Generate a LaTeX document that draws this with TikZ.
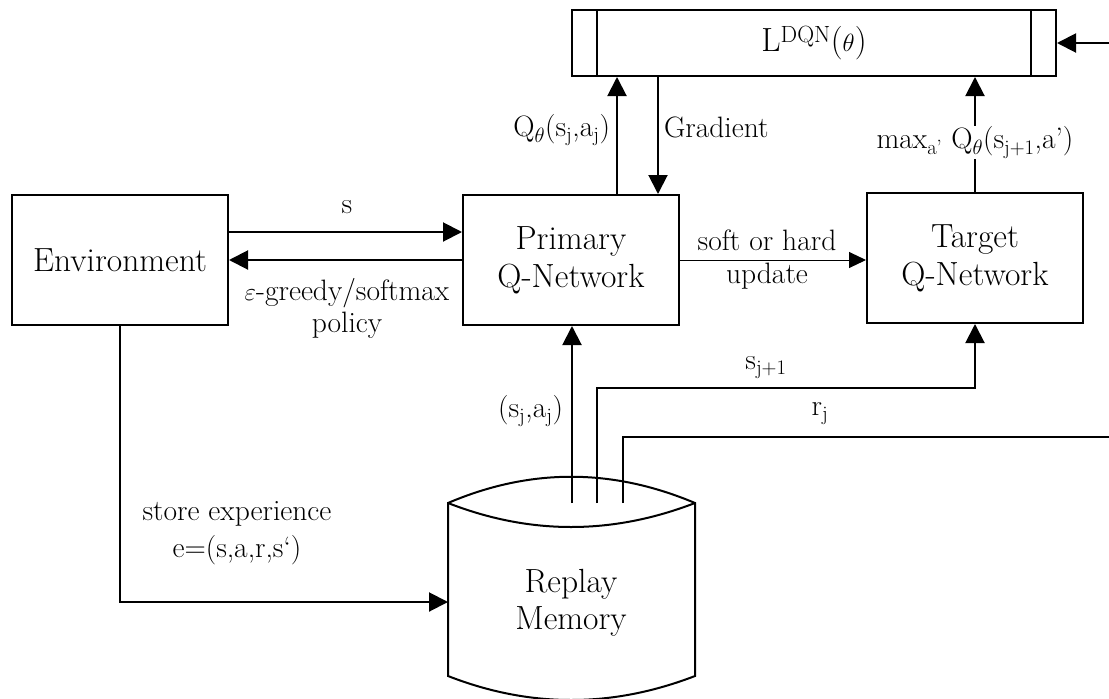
\documentclass[tikz,border=0pt]{standalone}
\usetikzlibrary{arrows.meta,calc}
\newcommand\nodefnt{\fontsize{33.5}{38}\selectfont}
\newcommand\labfnt{\fontsize{29.5}{33}\selectfont}
\begin{document}
\begin{tikzpicture}[x=1pt,y=-1pt,line width=2pt,
  box/.style={draw,line width=2pt,minimum width=216pt,minimum height=130pt,align=center,font=\nodefnt,inner sep=0pt},
  lab/.style={font=\labfnt,align=center,inner sep=1pt},
  arr/.style={-{Triangle[length=19pt,width=19pt]},line width=2pt},
  thinarr/.style={-{Triangle[length=17pt,width=16pt]},line width=1pt}]
\useasboundingbox (0,0) rectangle (1109,699);

% nodes
\node[box] (env) at (120,260) {Environment};
\node[box] (prim) at (571,260) {Primary\\Q-Network};
\node[box] (targ) at (975,258) {Target\\Q-Network};
\node[draw,line width=2pt,minimum width=484pt,minimum height=66pt,inner sep=0pt,font=\nodefnt] (loss) at (814,43) {L\textsuperscript{DQN}($\theta$)};
\draw[line width=2pt] ([xshift=26pt]loss.north west) -- ([xshift=26pt]loss.south west);
\draw[line width=2pt] ([xshift=-26pt]loss.north east) -- ([xshift=-26pt]loss.south east);

% replay memory cylinder
\draw (448,503) .. controls (530,468) and (612,468) .. (695,503) -- (695,676)
      .. controls (612,708) and (530,708) .. (448,676) -- cycle;
\draw (448,503) .. controls (530,535) and (612,535) .. (695,503);
\node[align=center,inner sep=0pt,font=\fontsize{33.5}{37}\selectfont] (mem) at (571,603) {Replay\\Memory};

\coordinate (c1) at (572,503);
\coordinate (c2) at (597,503);
\coordinate (c3) at (623,503);
\coordinate (cylW) at (448,602);
\coordinate (re1) at (1109,43);
\coordinate (re2) at (1109,437);

% environment <-> primary
\draw[arr] ([yshift=28pt]env.east) -- ([yshift=28pt]env.east -| prim.west);
\draw[arr] (prim.west) -- (prim.west -| env.east);
\node[lab] (ls) at (347,207) {s};
\node[lab,font=\fontsize{29.5}{32}\selectfont] (leps) at (347,308) {$\varepsilon$-greedy/softmax\\policy};

% primary -> target
\draw[thinarr] (prim.east) -- (prim.east -| targ.west);
\node[lab,font=\fontsize{29.5}{33}\selectfont] (lsoft) at (767,260) {soft or hard\\update};

% primary <-> loss
\draw[arr] ([xshift=46pt]prim.north) -- ([xshift=46pt]prim.north |- loss.south);
\draw[arr] ([xshift=87pt]prim.north |- loss.south) -- ([xshift=87pt]prim.north);
\node[lab,anchor=east] (lq) at (612,130) {Q\textsubscript{$\theta$}(s\textsubscript{j},a\textsubscript{j})};
\node[lab,anchor=west] (lg) at (662,127) {Gradient};

% target -> loss
\draw[arr] (targ.north) -- (targ.north |- loss.south)
  node[lab,pos=0.43,fill=white] (lmax) {max\textsubscript{a'} Q\textsubscript{$\theta$}(s\textsubscript{j+1},a')};

% right side into loss
\draw[arr] (re1) -- (loss.east);

% replay memory outputs
\draw[arr] (c1) -- (c1 |- prim.south);
\node[lab,anchor=east] (lsa) at (565,411) {(s\textsubscript{j},a\textsubscript{j})};
\draw[arr] (c2) -- ++(0,-115) -| (targ.south);
\node[lab] (lsj) at (766,368) {s\textsubscript{j+1}};
\draw (c3) |- (re2);
\node[lab] (lr) at (820,414) {r\textsubscript{j}};

% store experience
\draw[arr] (env.south) |- (cylW);
\node[lab,font=\fontsize{29.5}{37}\selectfont] (lst) at (237,533) {store experience\\e=(s,a,r,s`)};
\end{tikzpicture}
\end{document}
